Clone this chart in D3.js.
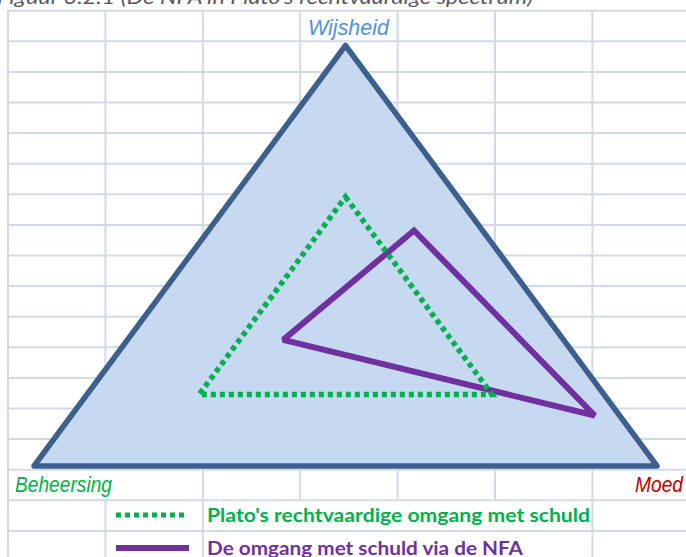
<!DOCTYPE html>
<html>
<head>
<meta charset="utf-8">
<script src="https://cdn.jsdelivr.net/npm/d3@7"></script>
<style>
  html, body { margin: 0; padding: 0; background: #fff; overflow: hidden; }
  svg { display: block; }
</style>
</head>
<body>
<svg id="chart" width="686" height="557"></svg>
<script>
// ---- data (ternary shares: [Wijsheid, Moed, Beheersing] in %) ----
const title = "Figuur 3.2.1 (De NFA in Plato's rechtvaardige spectrum)";
const categories = ["Wijsheid", "Moed", "Beheersing"];
const outerValues = [[100, 0, 0], [0, 100, 0], [0, 0, 100]];
const platoValues = [[64, 18, 18], [17, 65, 18], [17, 18, 65]];
const nfaValues = [[56, 33, 11], [12, 84, 4], [30, 25, 45]];
const seriesNames = ["Plato's rechtvaardige omgang met schuld", "De omgang met schuld via de NFA"];

// ---- layout ----
const W = 686, H = 557;
const svg = d3.select("#chart");

// spreadsheet grid background
const colX = d3.range(8).map(i => 8 + 97.4 * i);
const rowY = d3.range(19).map(i => 10.7 + 30.6 * i);
const gridColor = "#d3dae7";
// vertical lines hidden where cell text overflows (row index -> column indices)
const hidden = { 15: [1], 16: [3, 4, 5], 17: [3, 4, 5] };
const g = svg.append("g");
for (let r = 0; r < rowY.length - 1; r++) {
  colX.forEach((cx, c) => {
    if (hidden[r] && hidden[r].includes(c)) return;
    g.append("line").attr("x1", cx).attr("x2", cx)
      .attr("y1", rowY[r]).attr("y2", rowY[r + 1])
      .attr("stroke", gridColor).attr("stroke-width", 2);
  });
}
rowY.forEach(ry => {
  g.append("line").attr("x1", colX[0] - 1).attr("x2", W)
    .attr("y1", ry).attr("y2", ry)
    .attr("stroke", gridColor).attr("stroke-width", 2);
});

// title (cut off at the top)
const tt = svg.append("text").text(title)
  .attr("x", -3).attr("y", 4)
  .attr("font-family", "Lato, 'Open Sans', sans-serif")
  .attr("font-style", "italic").attr("font-size", 19)
  .attr("fill", "#595959");
tt.attr("textLength", 536).attr("lengthAdjust", "spacingAndGlyphs");

// ---- ternary scales ----
const x = d3.scaleLinear().domain([0, 1]).range([34, 657]);
const y = d3.scaleLinear().domain([0, 1]).range([466, 45.5]);
const project = v => [x((v[1] + v[0] / 2) / 100), y(v[0] / 100)];
const line = d3.line().curve(d3.curveLinearClosed);

// outer triangle
svg.append("path").attr("d", line(outerValues.map(project)))
  .attr("fill", "#c6d9f0").attr("stroke", "#3c5f8d")
  .attr("stroke-width", 5.5).attr("stroke-linejoin", "round");

// NFA series
svg.append("path").attr("d", line(nfaValues.map(project)))
  .attr("fill", "none").attr("stroke", "#7030a0")
  .attr("stroke-width", 6).attr("stroke-linejoin", "miter")
  .attr("stroke-miterlimit", 2);

// Plato series
svg.append("path").attr("d", line(platoValues.map(project)))
  .attr("fill", "none").attr("stroke", "#00b050")
  .attr("stroke-width", 5.5).attr("stroke-dasharray", "5,4")
  .attr("stroke-linecap", "butt");

// category labels
const labelFont = "'Liberation Sans', Arial, sans-serif";
const labelSpec = [
  { text: categories[0], x: 308, y: 35, w: 81, color: "#5590d8" },
  { text: categories[1], x: 635, y: 492, w: 48, color: "#c00000" },
  { text: categories[2], x: 15, y: 492, w: 97, color: "#00b050" }
];
labelSpec.forEach(l => {
  svg.append("text").text(l.text)
    .attr("x", l.x).attr("y", l.y)
    .attr("font-family", labelFont).attr("font-style", "italic")
    .attr("font-size", 22).attr("fill", l.color)
    .attr("textLength", l.w).attr("lengthAdjust", "spacingAndGlyphs");
});

// legend
const legend = svg.append("g");
legend.append("line").attr("x1", 116).attr("x2", 188).attr("y1", 515).attr("y2", 515)
  .attr("stroke", "#00b050").attr("stroke-width", 5).attr("stroke-dasharray", "5,4");
legend.append("line").attr("x1", 116).attr("x2", 189).attr("y1", 548).attr("y2", 548)
  .attr("stroke", "#7030a0").attr("stroke-width", 6);
const legFont = "Lato, 'Open Sans', sans-serif";
legend.append("text").text(seriesNames[0]).attr("x", 207).attr("y", 522)
  .attr("font-family", legFont).attr("font-weight", "bold").attr("font-size", 19)
  .attr("fill", "#00b050").attr("textLength", 383).attr("lengthAdjust", "spacingAndGlyphs");
legend.append("text").text(seriesNames[1]).attr("x", 207).attr("y", 555)
  .attr("font-family", legFont).attr("font-weight", "bold").attr("font-size", 19)
  .attr("fill", "#7030a0").attr("textLength", 316).attr("lengthAdjust", "spacingAndGlyphs");
</script>
</body>
</html>
